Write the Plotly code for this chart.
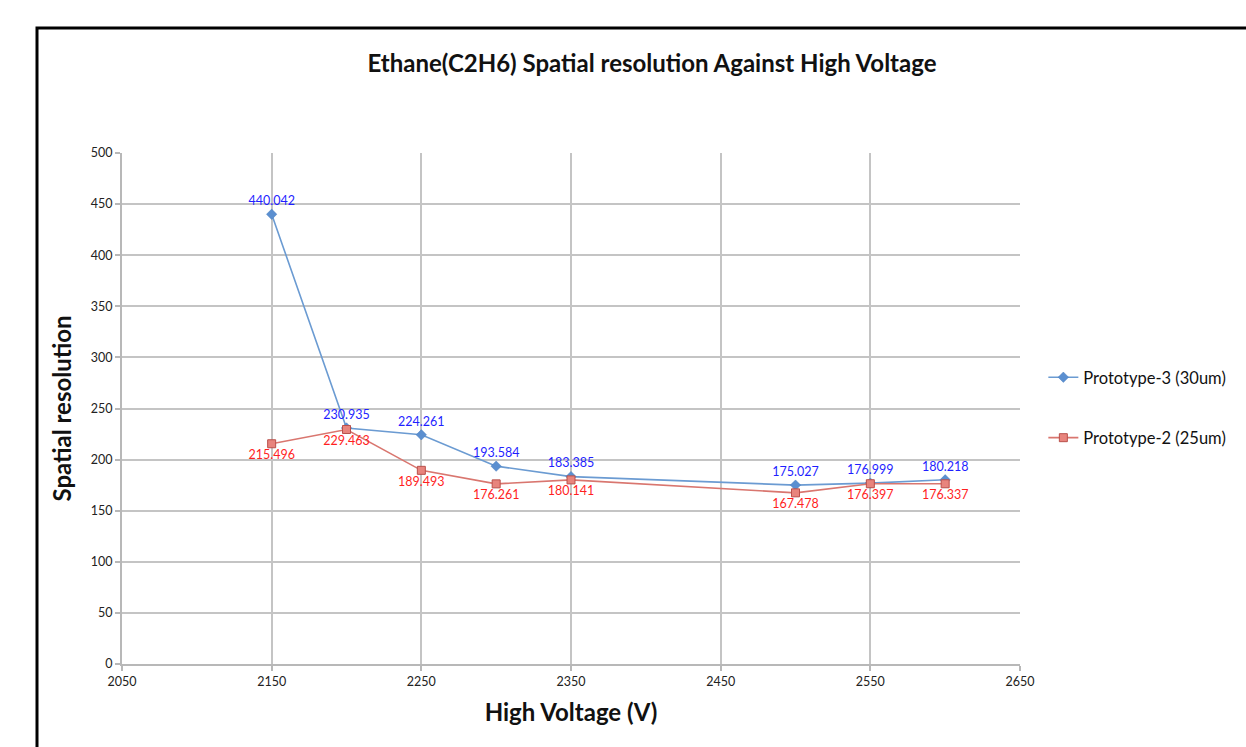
import plotly.graph_objects as go

# High voltage settings (V)
voltage_p3 = [2150, 2200, 2250, 2300, 2350, 2500, 2550, 2600]
voltage_p2 = [2150, 2200, 2250, 2300, 2350, 2500, 2550, 2600]

# Spatial resolution per prototype
res_p3 = [440.042, 230.935, 224.261, 193.584, 183.385, 175.027, 176.999, 180.218]
res_p2 = [215.496, 229.463, 189.493, 176.261, 180.141, 167.478, 176.397, 176.337]

name_p3 = "Prototype-3 (30um)"
name_p2 = "Prototype-2 (25um)"

x_ticks = [2050, 2150, 2250, 2350, 2450, 2550, 2650]
y_ticks = [0, 50, 100, 150, 200, 250, 300, 350, 400, 450, 500]

FONT = "Lato"
W, H = 1246, 747
ML, MR, MT, MB = 122, 226, 153, 83

fig = go.Figure()

fig.add_trace(go.Scatter(
    x=voltage_p3, y=res_p3, name=name_p3, legendgroup="p3",
    mode="lines+markers+text",
    line=dict(color="#6b9bd2", width=1.6),
    marker=dict(symbol="diamond", size=8, color="#5b8fd0",
                line=dict(color="#4a7ebf", width=0.5)),
    text=[f"{v:.3f}" for v in res_p3],
    textposition="top center",
    textfont=dict(family=FONT, size=12.5, color="#1f1fff"),
))

fig.add_trace(go.Scatter(
    x=voltage_p2, y=res_p2, name=name_p2, legendgroup="p2",
    mode="lines+markers+text",
    line=dict(color="#d9766f", width=1.6),
    marker=dict(symbol="square", size=8, color="#e8847d",
                line=dict(color="#b9504b", width=1)),
    text=[f"{v:.3f}" for v in res_p2],
    textposition="bottom center",
    textfont=dict(family=FONT, size=12.5, color="#ff1f1f"),
))

# outer frame (left and top edges)
pw = W - ML - MR
ph = H - MT - MB
fx = (37 - ML) / pw
fy = 1 + (MT - 28) / ph
fig.add_shape(type="path", xref="paper", yref="paper",
              path=f"M {fx} -0.5 L {fx} {fy} L 1.5 {fy}",
              line=dict(color="black", width=3))

fig.update_layout(
    width=W, height=H,
    margin=dict(l=ML, r=MR, t=MT, b=MB),
    paper_bgcolor="white", plot_bgcolor="white",
    font=dict(family=FONT, color="#222222"),
    title=dict(text="<b>Ethane(C2H6) Spatial resolution Against High Voltage</b>",
               x=652 / W, xanchor="center", y=1 - 64 / H, yanchor="middle",
               font=dict(family=FONT, size=24, color="#111111")),
    legend=dict(x=1.026, xanchor="left", y=(H - MB - 360) / ph, yanchor="top",
                font=dict(family=FONT, size=16.5, color="#111111"),
                tracegroupgap=36, bgcolor="rgba(0,0,0,0)"),
    showlegend=True,
)

fig.update_xaxes(
    range=[2050, 2650], tickvals=x_ticks, ticktext=[str(v) for v in x_ticks],
    showgrid=True, gridcolor="#c4c4c4", gridwidth=2,
    showline=True, linecolor="#b8b8b8", linewidth=2, mirror=False,
    ticks="outside", ticklen=5, tickcolor="#b8b8b8", tickwidth=2,
    tickfont=dict(family=FONT, size=12.5, color="#222222"),
    zeroline=False,
    title=dict(text="<b>High Voltage (V)</b>", standoff=16,
               font=dict(family=FONT, size=24, color="#111111")),
)
fig.update_yaxes(
    range=[0, 500], tickvals=y_ticks,
    showgrid=True, gridcolor="#c4c4c4", gridwidth=2,
    showline=True, linecolor="#b8b8b8", linewidth=2,
    ticks="outside", ticklen=5, tickcolor="#b8b8b8", tickwidth=2,
    tickfont=dict(family=FONT, size=12.5, color="#222222"),
    zeroline=False,
    title=dict(text="<b>Spatial resolution</b>", standoff=12,
               font=dict(family=FONT, size=24, color="#111111")),
)

fig.write_html("out.html")
